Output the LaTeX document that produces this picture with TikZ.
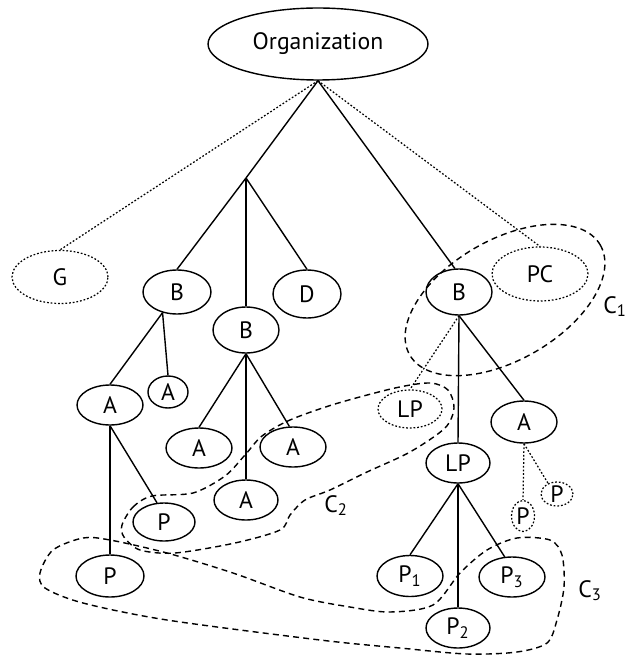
\documentclass[tikz,border=0pt]{standalone}
\usepackage{fontspec}
\setmainfont{PT Sans}
\usetikzlibrary{shapes.geometric}
\tikzset{
  ent/.style={ellipse, draw, line width=0.8pt, inner sep=0pt,
    minimum width=1.32cm, minimum height=0.82cm,
    font=\fontsize{13.5}{15}\selectfont},
  virt/.style={ent, line width=0.7pt, dash pattern=on 1pt off 1.1pt},
  link/.style={line width=0.8pt},
  vlink/.style={line width=0.7pt, dash pattern=on 1pt off 1.1pt},
  clus/.style={line width=0.8pt, dash pattern=on 3.4pt off 2.4pt},
  clab/.style={font=\fontsize{13.5}{15}\selectfont, inner sep=0pt},
}

\begin{document}
\begin{tikzpicture}[x=0.02cm, y=-0.02cm]
\useasboundingbox (0,0) rectangle (625,655);

% ── Wurzel ─────────────────────────────────────────────────────────────────
\node[ent, minimum width=4.4cm, minimum height=1.44cm] (org) at (318,44)
  {Organization};
\coordinate (j) at (246,178);

% ── erste Ebene ────────────────────────────────────────────────────────────
\node[virt, minimum width=1.92cm, minimum height=1.06cm] (g) at (60,277) {G};
\node[ent, minimum width=1.36cm, minimum height=0.88cm] (b1) at (177,292) {B};
\node[ent, minimum width=1.36cm, minimum height=0.96cm] (d) at (307,294) {D};
\node[ent, minimum height=0.92cm] (b2) at (246,330) {B};
\node[ent, minimum height=0.92cm] (b3) at (459,292) {B};
\node[virt, minimum width=1.92cm, minimum height=1.08cm] (pc) at (540,274) {PC};

\draw[link] (org.south) -- (j);
\draw[link] (j) -- (b1.north);
\draw[link] (j) -- (b2.north);
\draw[link] (j) -- (d.north);
\draw[link] (org.south) -- (b3.100);
\draw[vlink] (org.south) -- (g.north);
\draw[vlink] (org.south) -- (pc.north);

% ── linker Ast ─────────────────────────────────────────────────────────────
\node[ent, minimum height=0.8cm] (a1) at (110,405) {A};
\node[ent, minimum width=0.8cm, minimum height=0.64cm] (a2) at (168,392) {A};
\node[ent, minimum width=1.24cm, minimum height=0.76cm] (pm) at (164,522) {P};
\node[ent, minimum width=1.36cm, minimum height=0.84cm] (pb) at (110,576) {P};
\draw[link] (b1.-125) -- (a1.north);
\draw[link] (b1.-125) -- (a2.north);
\draw[link] (a1.south) -- (pb.north);
\draw[link] (a1.south) -- (pm.110);

% ── mittlerer Ast ──────────────────────────────────────────────────────────
\node[ent, minimum height=0.8cm] (a3) at (199,448) {A};
\node[ent, minimum height=0.8cm] (a4) at (293,447) {A};
\node[ent, minimum width=1.28cm, minimum height=0.8cm] (a5) at (246,500) {A};
\draw[link] (b2.south) -- (a3.north);
\draw[link] (b2.south) -- (a5.north);
\draw[link] (b2.south) -- (a4.100);

% ── rechter Ast ────────────────────────────────────────────────────────────
\node[virt, minimum width=1.28cm, minimum height=0.76cm] (lpv) at (410,409) {LP};
\node[ent, minimum width=1.28cm, minimum height=0.8cm] (lp) at (458,463) {LP};
\node[ent, minimum height=0.84cm] (ar) at (524,422) {A};
\node[virt, minimum width=0.46cm, minimum height=0.62cm] (pv1) at (523,516) {P};
\node[virt, minimum width=0.64cm, minimum height=0.48cm] (pv2) at (557,494) {P};
\node[ent] (p1) at (410,576) {P\textsubscript{1}};
\node[ent, minimum width=1.28cm, minimum height=0.8cm] (p2) at (458,628) {P\textsubscript{2}};
\node[ent, minimum height=0.8cm] (p3) at (512,577) {P\textsubscript{3}};
\draw[vlink] (b3.south) -- (lpv.north);
\draw[link] (b3.south) -- (lp.north);
\draw[link] (b3.south) -- (ar.north);
\draw[vlink] (ar.south) -- (pv1.north);
\draw[vlink] (ar.south) -- (pv2.130);
\draw[link] (lp.south) -- (p1.north);
\draw[link] (lp.south) -- (p2.north);
\draw[link] (lp.south) -- (p3.110);

% ── Cluster ────────────────────────────────────────────────────────────────
\draw[clus, rotate around={30:(505,300)}] (505,300)
  ellipse [x radius=110, y radius=60];
\draw[clus] plot[smooth cycle] coordinates {
  (122,525) (133,507) (152,496) (193,493) (225,476) (245,455) (262,436)
  (290,420) (335,404) (395,388) (430,383) (448,390) (454,408) (445,428)
  (410,452) (367,472) (330,490) (305,500) (290,515) (280,530) (235,543)
  (175,553) (140,550) (124,537)};
\draw[clus] plot[smooth cycle] coordinates {
  (53,550) (83,538) (110,540) (167,553) (233,573) (300,597) (350,607)
  (390,612) (433,605) (460,573) (487,550) (517,538) (550,540) (562,555)
  (564,587) (557,620) (547,643) (517,652) (467,654) (400,648) (320,640)
  (167,620) (83,603) (45,588) (40,573)};

\node[clab, anchor=base west] (c1) at (603,313) {C\textsubscript{1}};
\node[clab, anchor=base west] (c2) at (324,512) {C\textsubscript{2}};
\node[clab, anchor=base west] (c3) at (578,597) {C\textsubscript{3}};

\end{tikzpicture}
\end{document}
